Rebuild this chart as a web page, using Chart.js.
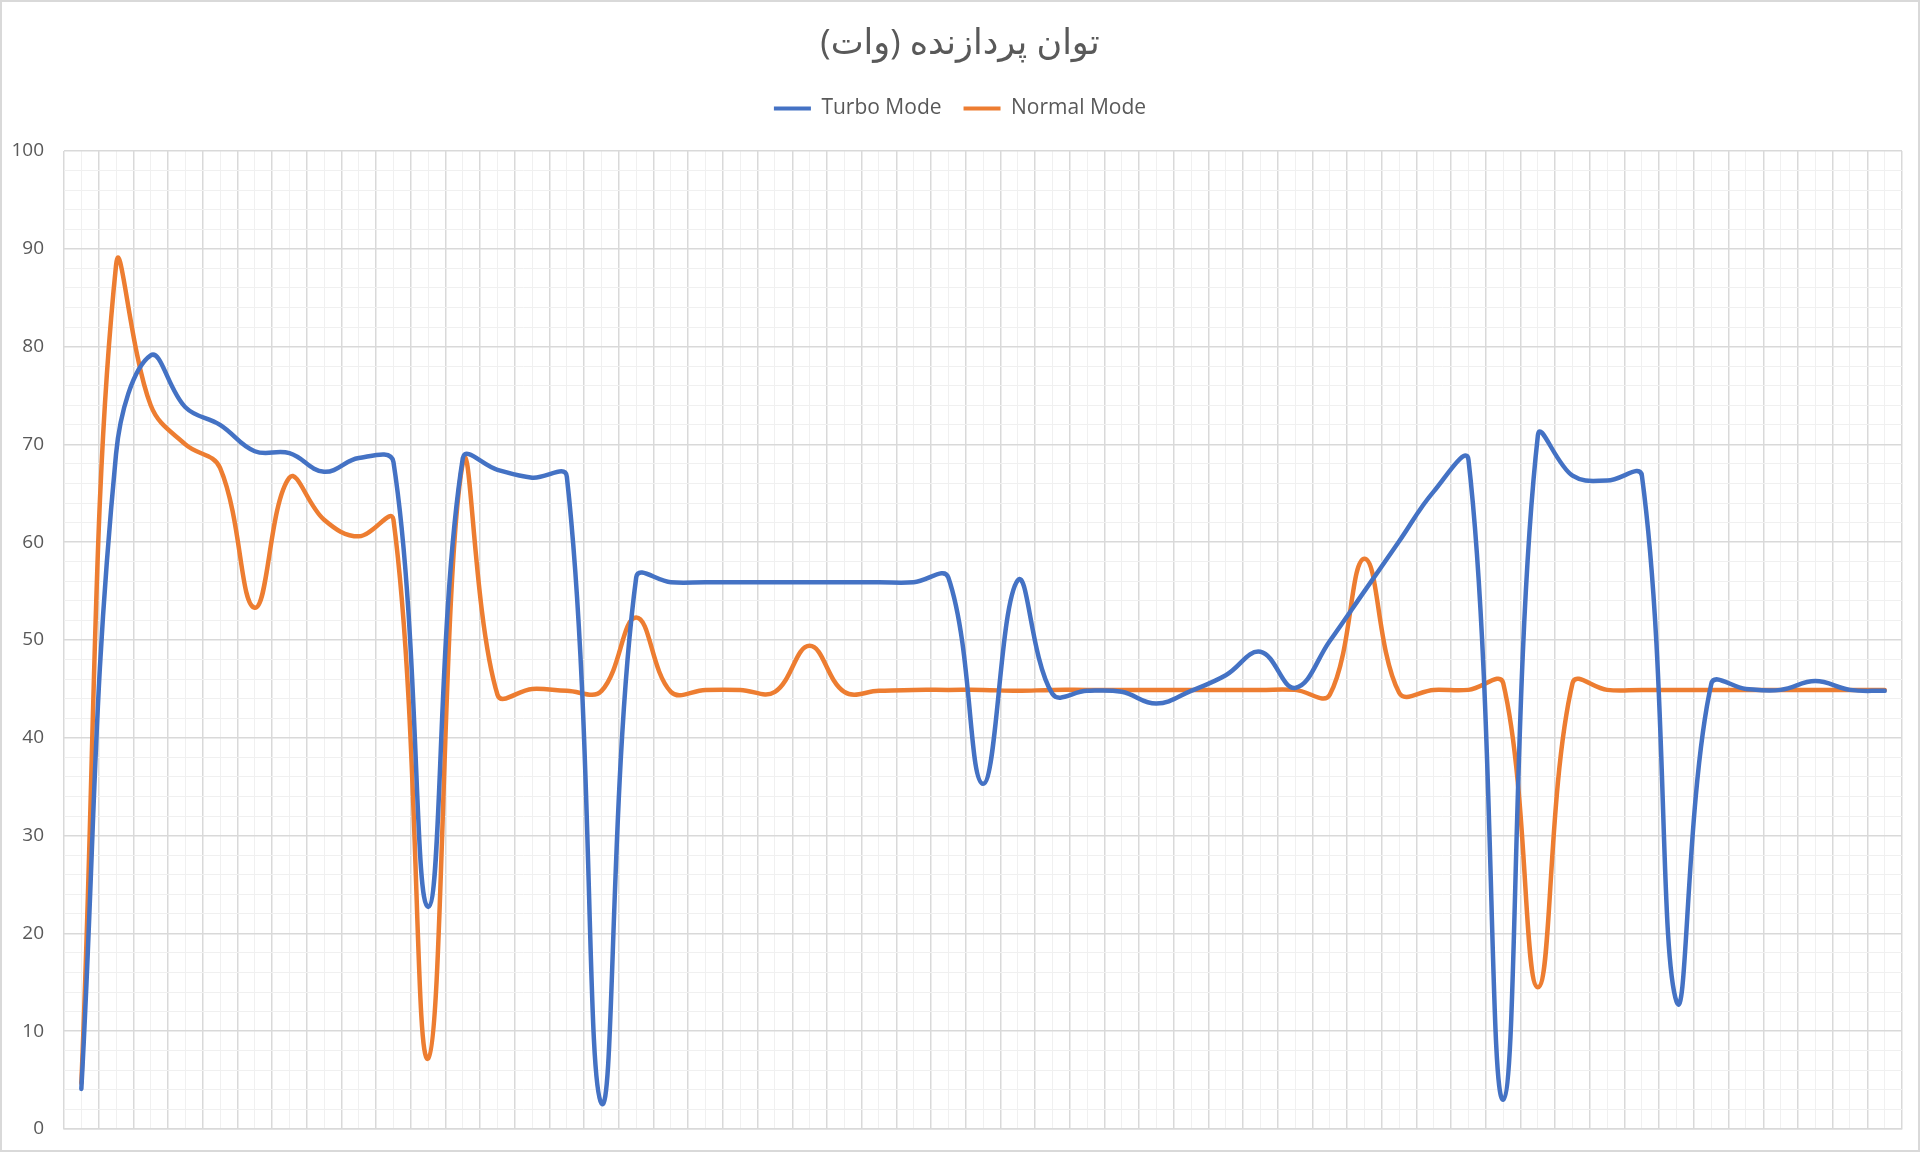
<!DOCTYPE html>
<html lang="fa">
<head>
<meta charset="utf-8">
<title>توان پردازنده (وات)</title>
<script src="https://cdn.jsdelivr.net/npm/chart.js@4.4.1/dist/chart.umd.min.js"></script>
<style>
  html, body { margin: 0; padding: 0; background: #fff; }
  #powerChart { display: block; }
</style>
</head>
<body>
<canvas id="powerChart" width="1920" height="1152"></canvas>
<script>
// Chart data
const chartTitle = 'توان پردازنده (وات)';
const seriesNames = ['Turbo Mode', 'Normal Mode'];
const sampleLabels = Array.from({ length: 53 }, (_, i) => String(i + 1));
const turboValues = [
    4.1, 69, 79.1, 73.8, 72, 69.3, 69.1, 67.2, 68.6, 68.2,
    22.7, 68.6, 67.4, 66.6, 66.7, 2.6, 56.4, 55.9, 55.9, 55.9,
    55.9, 55.9, 55.9, 55.9, 55.9, 56.4, 35.3, 56.1, 44.5, 44.8,
    44.7, 43.5, 44.8, 46.4, 48.8, 45.1, 49.9, 55, 60.1, 65.2,
    68.4, 3, 70.9, 66.8, 66.3, 66.8, 13, 45.5, 45, 44.9,
    45.8, 44.9, 44.8
];
const normalValues = [
    4.7, 88.3, 74, 70, 67.6, 53.3, 66.6, 62.3, 60.6, 62.3,
    7.2, 68.1, 44.4, 45, 44.8, 44.8, 52.3, 44.7, 44.9, 44.9,
    44.7, 49.4, 44.7, 44.8, 44.9, 44.9, 44.9, 44.8, 44.9, 44.9,
    44.9, 44.9, 44.9, 44.9, 44.9, 44.9, 44.4, 58.3, 44.6, 44.9,
    44.9, 45.6, 14.5, 45.6, 44.9, 44.9, 44.9, 44.9, 44.9, 44.9,
    44.9, 44.9, 44.9
];
const yMin = 0;
const yMax = 100;
const yMinorStep = 2;
const yMajorStep = 10;

document.addEventListener('DOMContentLoaded', () => {
    const textColor = '#595959';
    const majorGrid = '#d9d9d9';
    const minorGrid = '#f0f0f0';
    const fontFamily = "'Open Sans', 'DejaVu Sans', sans-serif";

    // White background + outer frame like the Excel chart
    const frame = {
        id: 'frame',
        beforeDraw(chart) {
            const c = chart.ctx;
            c.save();
            c.fillStyle = '#fff';
            c.fillRect(0, 0, chart.width, chart.height);
            c.strokeStyle = '#d9d9d9';
            c.lineWidth = 2;
            c.strokeRect(1, 1, chart.width - 2, chart.height - 2);
            c.restore();
        }
    };

    // Extra room under the legend, before the plot area
    const legendGap = {
        id: 'legendGap',
        afterInit(chart) {
            const fit = chart.legend.fit;
            chart.legend.fit = function () {
                fit.call(this);
                this.height += 22;
            };
        }
    };

    new Chart(document.getElementById('powerChart'), {
        type: 'line',
        data: {
            labels: sampleLabels,
            datasets: [
                {
                    label: seriesNames[0],
                    data: turboValues,
                    borderColor: '#4472c4',
                    backgroundColor: '#4472c4'
                },
                {
                    label: seriesNames[1],
                    data: normalValues,
                    borderColor: '#ed7d31',
                    backgroundColor: '#ed7d31'
                }
            ]
        },
        options: {
            responsive: false,
            animation: false,
            devicePixelRatio: 1,
            layout: { padding: { left: 0, right: 0, top: 0, bottom: 23 } },
            elements: {
                line: { borderWidth: 4.5, tension: 0.4, borderCapStyle: 'round', borderJoinStyle: 'round' },
                point: { radius: 0, hoverRadius: 0 }
            },
            plugins: {
                title: {
                    display: true,
                    text: chartTitle,
                    color: textColor,
                    font: { family: fontFamily, size: 35, weight: 'normal' },
                    padding: { top: 23, bottom: 11 }
                },
                legend: {
                    position: 'top',
                    labels: {
                        color: textColor,
                        font: { family: fontFamily, size: 21 },
                        boxWidth: 37,
                        boxHeight: 4,
                        padding: 22,
                        generateLabels: chart => Chart.defaults.plugins.legend.labels
                            .generateLabels(chart)
                            .map(item => ({ ...item, lineWidth: 0 }))
                    }
                },
                tooltip: { enabled: false }
            },
            scales: {
                x: {
                    type: 'category',
                    offset: true,
                    grid: { offset: true, color: majorGrid, lineWidth: 1.5, drawTicks: false },
                    border: { display: true, color: majorGrid, width: 1.5 },
                    ticks: { display: false }
                },
                xMinor: {
                    type: 'category',
                    labels: sampleLabels,
                    position: 'bottom',
                    offset: true,
                    grid: { offset: false, color: minorGrid, lineWidth: 1, drawTicks: false },
                    border: { display: false },
                    ticks: { display: false }
                },
                y: {
                    min: yMin,
                    max: yMax,
                    afterFit: scale => {
                        scale.width = 64;
                        scale.paddingTop = 0;
                        scale.paddingBottom = 0;
                    },
                    grid: {
                        color: ctx => (ctx.tick.value % yMajorStep === 0 ? majorGrid : minorGrid),
                        lineWidth: ctx => (ctx.tick.value % yMajorStep === 0 ? 1.5 : 1),
                        drawTicks: false
                    },
                    border: { display: false },
                    ticks: {
                        stepSize: yMinorStep,
                        autoSkip: false,
                        padding: 20,
                        color: textColor,
                        font: { family: fontFamily, size: 19 },
                        callback: v => (v % yMajorStep === 0 ? v : '')
                    }
                },
                // empty right-hand margin so the title stays centred on the canvas
                yRight: {
                    position: 'right',
                    grid: { display: false },
                    border: { display: false },
                    ticks: { display: false },
                    afterFit: scale => {
                        scale.width = 18;
                        scale.paddingTop = 0;
                        scale.paddingBottom = 0;
                    }
                }
            }
        },
        plugins: [frame, legendGap]
    });
});
</script>
</body>
</html>
